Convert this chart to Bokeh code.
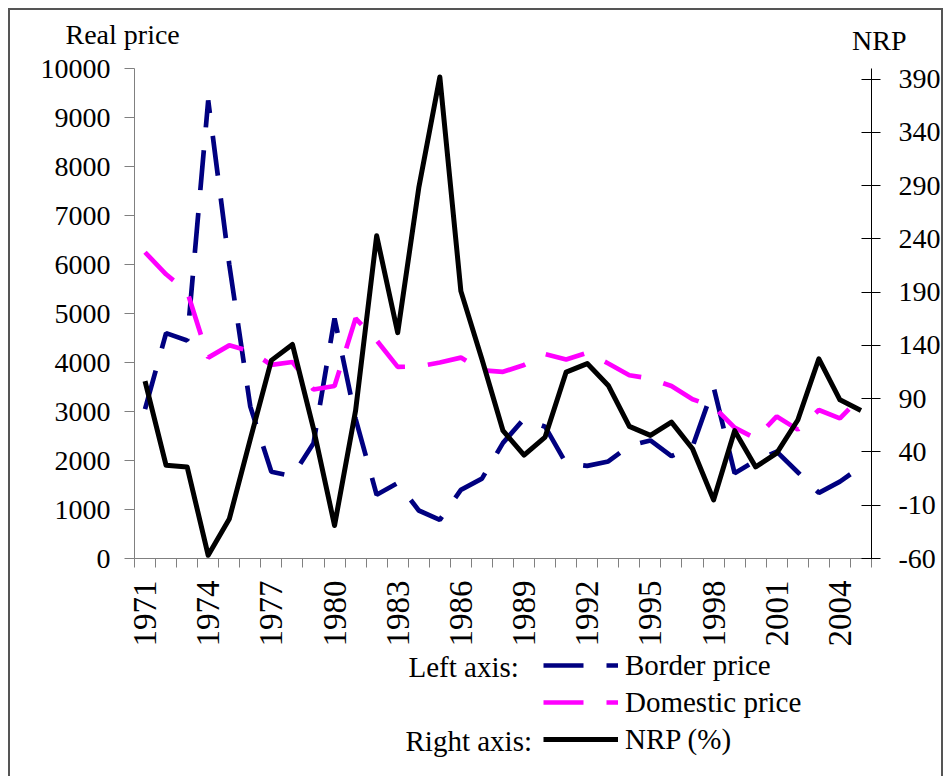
from bokeh.plotting import figure
from bokeh.layouts import column, row
from bokeh.models import (Range1d, LinearAxis, FixedTicker, Legend, LegendItem,
                          Label, Spacer)
from bokeh.embed import file_html
from bokeh.resources import INLINE
import math

# ---------------- data ----------------
years = list(range(1971, 2006))
border_price = [3050, 4600, 4450, 9350, 6000, 3100, 1770, 1680, 2350, 4900,
                2850, 1300, 1540, 980, 790, 1400, 1630, 2360, 2850, 2690,
                1940, 1890, 1980, 2300, 2410, 2090, 2280, 3500, 1740, 2000,
                2180, 1760, 1340, 1570, 1870]
domestic_price = [6250, 5800, 5450, 4100, 4350, 4230, 3950, 4010, 3450, 3520,
                  4900, 4450, 3910, 3920, 4000, 4100, 3840, 3810, 3950, 4170,
                  4060, 4200, 3980, 3740, 3670, 3520, 3250, 3100, 2670, 2450,
                  2900, 2630, 3030, 2860, 3300]
nrp = [106.5, 27.5, 26, -57, -23, 52, 126, 141, 62, -29,
       79, 243, 152, 288, 392, 191, 127, 60, 37, 54,
       115, 123, 102.5, 64, 55.6, 68, 43, -5, 60, 26,
       39, 70, 127.5, 89, 79]

left_ticks = list(range(0, 10001, 1000))
right_ticks = list(range(-60, 391, 50))
year_labels = list(range(1971, 2005, 3))

left_title = "Real price"
right_title = "NRP"
series_names = ["Border price", "Domestic price", "NRP (%)"]
group_names = ["Left axis:", "Right axis:"]

FONT = "Liberation Serif"
W = 935
NAVY, MAGENTA, BLACK = "#000080", "#FF00FF", "black"
DASH = "40 23"


def no_align(f):
    try:
        f.frame_align = False
    except Exception:
        pass


def clear_bg(f):
    f.border_fill_alpha = 0
    f.background_fill_alpha = 0
    f.outline_line_color = None
    f.xgrid.visible = False
    f.ygrid.visible = False
    no_align(f)


def blank_fig(h):
    f = figure(width=W, height=h, min_border=0, x_range=Range1d(0, W),
               y_range=Range1d(h, 0), output_backend="svg",
               toolbar_location=None, x_axis_location=None,
               y_axis_location=None)
    clear_bg(f)
    return f


def text(f, s, x, y, size):
    f.add_layout(Label(x=x, y=y, text=s, text_font=FONT, text_font_size=size,
                       text_baseline="middle", text_align="left",
                       text_color="black"))


# ---------------- top strip: axis titles ----------------
top = blank_fig(46)
text(top, left_title, 57, 25.7, "28px")
text(top, right_title, 843.5, 31.5, "28px")

# ---------------- main chart ----------------
p = figure(frame_width=737, frame_height=490,
           min_border_left=126, min_border_right=72,
           min_border_top=14, min_border_bottom=91,
           x_range=Range1d(1970.5, 2005.5), y_range=Range1d(0, 10000),
           output_backend="svg", toolbar_location=None,
           x_axis_location=None, y_axis_location=None)
clear_bg(p)
p.extra_y_ranges = {"nrp": Range1d(-60, 400)}

ly = LinearAxis(ticker=FixedTicker(ticks=left_ticks))
ly.major_label_overrides = {t: str(t) for t in left_ticks}
ly.axis_line_color = "#808080"
ly.major_tick_line_color = "#808080"
ly.major_tick_out = 10
ly.major_tick_in = 0
ly.minor_tick_line_color = None
ly.major_label_standoff = 14
ly.major_label_text_font = FONT
ly.major_label_text_font_size = "28px"
ly.major_label_text_color = "black"
p.add_layout(ly, "left")

ry = LinearAxis(y_range_name="nrp", ticker=FixedTicker(ticks=right_ticks))
ry.major_label_overrides = {t: str(t) for t in right_ticks}
ry.axis_line_color = "black"
ry.major_tick_line_color = "black"
ry.major_tick_out = 9
ry.major_tick_in = 10
ry.minor_tick_line_color = None
ry.major_label_standoff = 18
ry.major_label_text_font = FONT
ry.major_label_text_font_size = "28px"
ry.major_label_text_color = "black"
p.add_layout(ry, "right")

boundaries = [y - 0.5 for y in years] + [years[-1] + 0.5]
bx = LinearAxis(ticker=FixedTicker(ticks=year_labels, minor_ticks=boundaries))
bx.major_label_overrides = {t: str(t) for t in year_labels}
bx.axis_line_color = "#808080"
bx.major_tick_line_color = None
bx.major_tick_out = 0
bx.major_tick_in = 0
bx.minor_tick_line_color = "#808080"
bx.minor_tick_out = 9
bx.minor_tick_in = 0
bx.major_label_orientation = math.pi / 2
bx.major_label_standoff = 13
bx.major_label_text_font = FONT
bx.major_label_text_font_size = "33px"
bx.major_label_text_color = "black"
p.add_layout(bx, "below")

p.line(years, border_price, line_color=NAVY, line_width=4.7, line_dash=DASH)
p.line(years, domestic_price, line_color=MAGENTA, line_width=4.7, line_dash=DASH)
p.line(years, nrp, y_range_name="nrp", line_color=BLACK, line_width=5,
       line_join="round")

# ---------------- bottom strip: legend ----------------
# the same series, drawn here outside this strip's view, carry the legend samples
BH = 127
bot = blank_fig(BH)
k_border = bot.line(years, border_price, line_color=NAVY, line_width=4.7,
                    line_dash=DASH)
k_dom = bot.line(years, domestic_price, line_color=MAGENTA, line_width=4.7,
                 line_dash=DASH)
k_nrp = bot.line(years, nrp, line_color=BLACK, line_width=5)
legend = Legend(items=[LegendItem(label=series_names[0], renderers=[k_border]),
                       LegendItem(label=series_names[1], renderers=[k_dom]),
                       LegendItem(label=series_names[2], renderers=[k_nrp])],
                location=(535, 20), orientation="vertical",
                glyph_width=75, glyph_height=34, label_height=34,
                spacing=3, padding=0, margin=0, label_standoff=7,
                label_text_font=FONT, label_text_font_size="29px",
                label_text_color="black",
                border_line_color=None, background_fill_alpha=0)
bot.add_layout(legend)
text(bot, group_names[0], 400, 17.3, "29px")
text(bot, group_names[1], 397, 91, "29px")

chart = column(top, p, bot, spacing=0,
               styles={"box-shadow": "inset 2px 2px 0 #555555, inset -2px 0 0 #555555"})
layout = column(Spacer(width=W + 8, height=8),
                row(Spacer(width=8, height=768), chart, spacing=0),
                spacing=0)

open("out.html", "w").write(file_html(layout, INLINE))
